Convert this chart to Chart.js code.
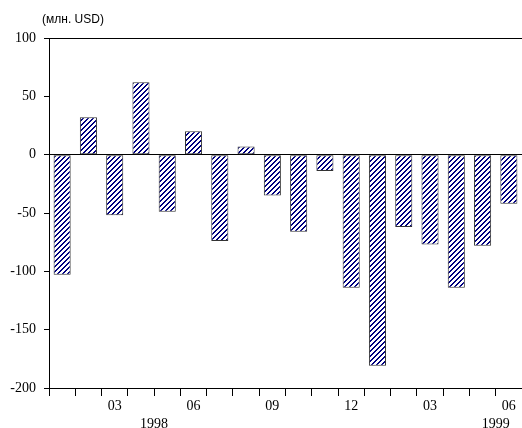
<!DOCTYPE html>
<html>
<head>
<meta charset="utf-8">
<script src="https://cdn.jsdelivr.net/npm/chart.js@4/dist/chart.umd.min.js"></script>
<style>
  html, body { margin: 0; padding: 0; background: #fff; }
  #wrap { width: 522px; height: 428px; position: relative; }
</style>
</head>
<body>
<div id="wrap"><canvas id="bar-chart"></canvas></div>
<script>
// months Jan 1998 .. Jun 1999
var months = ["01","02","03","04","05","06","07","08","09","10","11","12",
              "01","02","03","04","05","06"];
// balance, mln USD
var values = [-103, 32, -52, 62, -49, 20, -74, 7, -35, -66, -14, -114,
              -181, -62, -77, -114, -78, -42];
var yTicks = [100, 50, 0, -50, -100, -150, -200];
var years = ["1998", "1999"];
var yearAt = [3.5, 16.5];   // category position under which the year sits
var unitLabel = "(млн. USD)";

var serif = "Liberation Serif";

var canvas = document.getElementById("bar-chart");
var ctx = canvas.getContext("2d");

// navy "///" hatching like the original
function hatch() {
  var c = document.createElement("canvas");
  c.width = 5; c.height = 5;
  var g = c.getContext("2d");
  g.fillStyle = "#fff";
  g.fillRect(0, 0, 5, 5);
  g.fillStyle = "#000080";
  for (var x = 0; x < 5; x++) {
    for (var y = 0; y < 5; y++) {
      var k = (x + y) % 5;
      if (k == 0 || k == 1) g.fillRect(x, y, 1, 1);
    }
  }
  return ctx.createPattern(c, "repeat");
}

var extras = {
  id: "extras",
  afterDraw: function(chart) {
    var c = chart.ctx;
    var area = chart.chartArea;
    var xs = chart.scales.x;
    c.save();
    c.fillStyle = "#000";
    c.font = "12px 'Liberation Sans', Arial, sans-serif";
    c.textAlign = "left";
    c.textBaseline = "middle";
    c.fillText(unitLabel, area.left - 7, 20);
    c.font = "14px " + serif;
    c.textAlign = "center";
    for (var i = 0; i < years.length; i++) {
      c.fillText(years[i], xs.getPixelForValue(yearAt[i]), area.bottom + 36);
    }
    c.restore();
  }
};

new Chart(canvas, {
  type: "bar",
  data: {
    labels: months,
    datasets: [{
      data: values,
      backgroundColor: hatch(),
      borderColor: "#333",
      borderWidth: 1,
      borderSkipped: false,
      barPercentage: 0.65,
      categoryPercentage: 1.0
    }]
  },
  options: {
    responsive: true,
    maintainAspectRatio: false,
    animation: false,
    layout: { padding: { top: 38, right: 0, left: 0, bottom: 0 } },
    plugins: {
      legend: { display: false },
      tooltip: { enabled: false }
    },
    scales: {
      x: {
        afterFit: function(s) { s.height = 40; },
        grid: {
          offset: true,
          drawOnChartArea: false,
          drawTicks: true,
          tickLength: 8,
          color: "#000",
          tickColor: "#000"
        },
        border: { display: true, color: "#000", width: 1 },
        ticks: {
          autoSkip: false,
          maxRotation: 0,
          padding: 2,
          color: "#000",
          font: { family: serif, size: 14 },
          callback: function(val, i) { return i % 3 == 2 ? months[i] : ""; }
        }
      },
      y: {
        min: -200,
        max: 100,
        afterFit: function(s) { s.width = 49; },
        afterBuildTicks: function(s) {
          s.ticks = yTicks.map(function(v) { return { value: v }; });
        },
        grid: {
          color: function(c) {
            return (c.tick && (c.tick.value == 0 || c.tick.value == 100)) ? "#000" : "rgba(0,0,0,0)";
          },
          tickColor: "#000",
          tickLength: 5,
          lineWidth: 1
        },
        border: { display: true, color: "#000", width: 1 },
        ticks: {
          padding: 8,
          color: "#000",
          font: { family: serif, size: 14 }
        }
      }
    }
  },
  plugins: [extras]
});
</script>
</body>
</html>
